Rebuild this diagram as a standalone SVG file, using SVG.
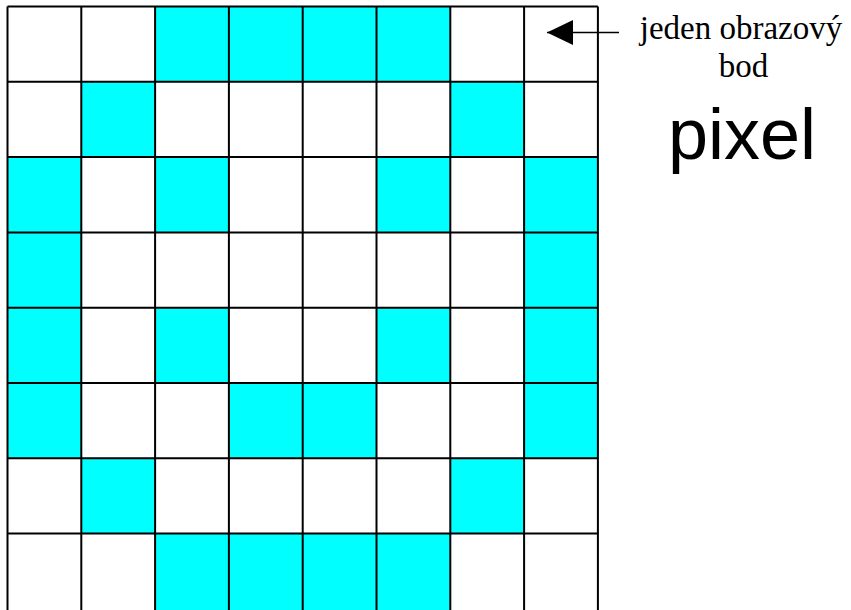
<svg xmlns="http://www.w3.org/2000/svg" width="851" height="610" viewBox="0 0 851 610">
<style>
.c{fill:#00ffff}
.g{stroke:#000;stroke-width:2;fill:none}
.t{font-family:"Liberation Serif",serif;font-size:33px;fill:#000}
.p{font-family:"Liberation Sans",sans-serif;font-size:72px;fill:#000}
</style>
<defs>
<marker id="ah" viewBox="0 0 26 25" refX="26" refY="12.5" markerWidth="26" markerHeight="25" markerUnits="userSpaceOnUse" orient="auto">
<path d="M0,0 L26,12.5 L0,25 Z" fill="#000"/>
</marker>
</defs>
<rect width="851" height="610" fill="#fff"/>
<g id="grid">
<g id="cells">
<rect class="c" x="155.1" y="6.5" width="295.2" height="75.3"/>
<rect class="c" x="81.3" y="81.8" width="73.8" height="75.3"/>
<rect class="c" x="450.3" y="81.8" width="73.8" height="75.3"/>
<rect class="c" x="7.5" y="157.1" width="73.8" height="301.2"/>
<rect class="c" x="524.1" y="157.1" width="73.8" height="301.2"/>
<rect class="c" x="155.1" y="157.1" width="73.8" height="75.3"/>
<rect class="c" x="376.5" y="157.1" width="73.8" height="75.3"/>
<rect class="c" x="155.1" y="307.7" width="73.8" height="75.3"/>
<rect class="c" x="376.5" y="307.7" width="73.8" height="75.3"/>
<rect class="c" x="228.9" y="383" width="147.6" height="75.3"/>
<rect class="c" x="81.3" y="458.3" width="73.8" height="75.3"/>
<rect class="c" x="450.3" y="458.3" width="73.8" height="75.3"/>
<rect class="c" x="155.1" y="533.6" width="295.2" height="80"/>
</g>
<path class="g" d="M7.5,6.5V612 M81.3,6.5V612 M155.1,6.5V612 M228.9,6.5V612 M302.7,6.5V612 M376.5,6.5V612 M450.3,6.5V612 M524.1,6.5V612 M597.9,6.5V612
M7.5,6.5H597.9 M7.5,81.8H597.9 M7.5,157.1H597.9 M7.5,232.4H597.9 M7.5,307.7H597.9 M7.5,383H597.9 M7.5,458.3H597.9 M7.5,533.6H597.9"/>
</g>
<g id="connectors">
<line x1="619" y1="32.5" x2="547" y2="32.5" stroke="#000" stroke-width="1.5" marker-end="url(#ah)"/>
</g>
<g id="label">
<text class="t" x="741" y="38.5" text-anchor="middle">jeden obrazový</text>
<text class="t" x="743.5" y="76.5" text-anchor="middle">bod</text>
<text class="p" x="742" y="158.5" text-anchor="middle">pixel</text>
</g>
</svg>
